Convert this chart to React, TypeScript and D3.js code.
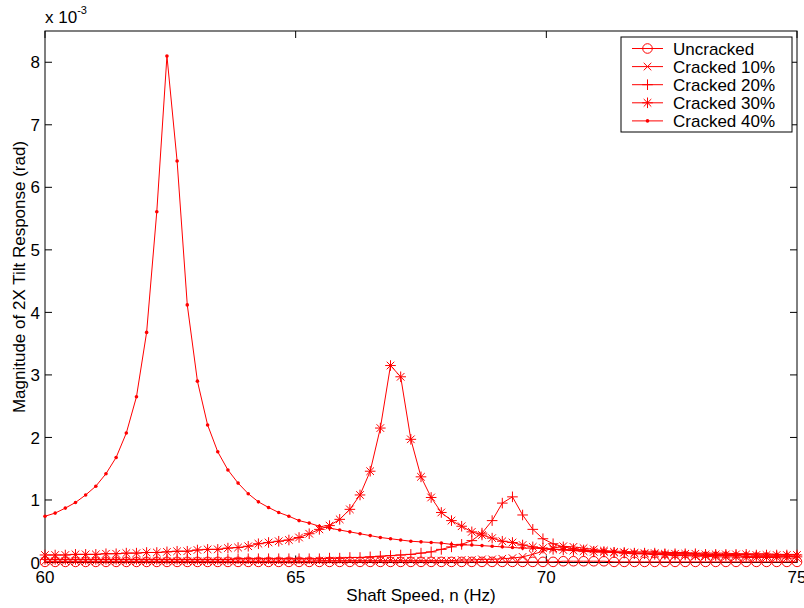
import React from "react";
import * as d3 from "d3";

// Shaft speed sweep: 75 evenly spaced samples from 60 Hz to 75 Hz
const SPEED_START = 60;
const SPEED_END = 75;
const SPEED_COUNT = 75;
const speeds: number[] = d3.range(SPEED_COUNT).map(
  (i) => SPEED_START + (i * (SPEED_END - SPEED_START)) / (SPEED_COUNT - 1)
);

// 2X tilt response magnitude, in units of 1e-3 rad
const uncracked: number[] = [
  0.01, 0.01, 0.01, 0.01, 0.01, 0.01, 0.01, 0.01, 0.01, 0.01,
  0.01, 0.01, 0.01, 0.01, 0.01, 0.01, 0.01, 0.01, 0.01, 0.01,
  0.01, 0.01, 0.01, 0.01, 0.01, 0.01, 0.01, 0.01, 0.01, 0.01,
  0.01, 0.01, 0.01, 0.01, 0.01, 0.01, 0.01, 0.01, 0.01, 0.01,
  0.01, 0.01, 0.01, 0.01, 0.01, 0.01, 0.01, 0.01, 0.01, 0.01,
  0.01, 0.02, 0.02, 0.02, 0.02, 0.02, 0.01, 0.01, 0.01, 0.01,
  0.01, 0.01, 0.01, 0.01, 0.01, 0.01, 0.01, 0.01, 0.01, 0.01,
  0.01, 0.01, 0.01, 0.01, 0.01,
];

const cracked10: number[] = [
  0.02, 0.02, 0.02, 0.02, 0.02, 0.02, 0.02, 0.02, 0.02, 0.02,
  0.02, 0.02, 0.02, 0.02, 0.02, 0.02, 0.02, 0.02, 0.02, 0.02,
  0.02, 0.02, 0.02, 0.02, 0.02, 0.02, 0.02, 0.03, 0.03, 0.03,
  0.03, 0.03, 0.03, 0.03, 0.03, 0.03, 0.03, 0.03, 0.03, 0.03,
  0.03, 0.04, 0.04, 0.05, 0.05, 0.06, 0.07, 0.09, 0.13, 0.18,
  0.23, 0.26, 0.25, 0.23, 0.21, 0.19, 0.17, 0.16, 0.15, 0.14,
  0.13, 0.12, 0.11, 0.11, 0.10, 0.10, 0.09, 0.09, 0.09, 0.08,
  0.08, 0.08, 0.08, 0.07, 0.07,
];

const cracked20: number[] = [
  0.05, 0.05, 0.05, 0.05, 0.05, 0.05, 0.05, 0.05, 0.05, 0.05,
  0.05, 0.05, 0.05, 0.05, 0.05, 0.05, 0.05, 0.05, 0.05, 0.06,
  0.06, 0.06, 0.06, 0.06, 0.06, 0.06, 0.06, 0.06, 0.07, 0.07,
  0.08, 0.08, 0.09, 0.10, 0.11, 0.12, 0.13, 0.15, 0.17, 0.21,
  0.25, 0.29, 0.35, 0.47, 0.67, 0.95, 1.05, 0.76, 0.53, 0.38,
  0.30, 0.25, 0.22, 0.20, 0.18, 0.17, 0.16, 0.15, 0.14, 0.14,
  0.13, 0.13, 0.12, 0.12, 0.12, 0.11, 0.11, 0.11, 0.11, 0.10,
  0.10, 0.10, 0.10, 0.10, 0.09,
];

const cracked30: number[] = [
  0.12, 0.12, 0.12, 0.13, 0.13, 0.13, 0.14, 0.14, 0.15, 0.15,
  0.16, 0.16, 0.17, 0.18, 0.18, 0.20, 0.21, 0.21, 0.23, 0.24,
  0.26, 0.30, 0.32, 0.34, 0.36, 0.40, 0.46, 0.53, 0.59, 0.69,
  0.85, 1.08, 1.46, 2.15, 3.15, 2.97, 1.97, 1.37, 1.04, 0.80,
  0.67, 0.58, 0.49, 0.44, 0.39, 0.34, 0.32, 0.28, 0.25, 0.23,
  0.21, 0.20, 0.19, 0.18, 0.17, 0.17, 0.16, 0.16, 0.15, 0.15,
  0.15, 0.14, 0.14, 0.14, 0.14, 0.13, 0.13, 0.13, 0.13, 0.13,
  0.12, 0.12, 0.12, 0.12, 0.12,
];

const cracked40: number[] = [
  0.74, 0.79, 0.87, 0.96, 1.08, 1.22, 1.42, 1.68, 2.07, 2.65,
  3.68, 5.61, 8.10, 6.42, 4.12, 2.90, 2.20, 1.77, 1.48, 1.27,
  1.10, 0.97, 0.88, 0.80, 0.74, 0.67, 0.63, 0.58, 0.55, 0.52,
  0.49, 0.46, 0.43, 0.40, 0.38, 0.36, 0.34, 0.33, 0.32, 0.31,
  0.29, 0.28, 0.28, 0.27, 0.26, 0.25, 0.24, 0.23, 0.23, 0.22,
  0.21, 0.21, 0.20, 0.20, 0.19, 0.19, 0.18, 0.18, 0.17, 0.17,
  0.17, 0.16, 0.16, 0.16, 0.15, 0.15, 0.15, 0.15, 0.14, 0.14,
  0.14, 0.14, 0.13, 0.13, 0.13,
];

const seriesNames: string[] = [
  "Uncracked",
  "Cracked 10%",
  "Cracked 20%",
  "Cracked 30%",
  "Cracked 40%",
];
const seriesValues: number[][] = [uncracked, cracked10, cracked20, cracked30, cracked40];
const markerKinds: string[] = ["circle", "x", "plus", "star", "dot"];

const xTicks: number[] = [60, 65, 70, 75];
const yTicks: number[] = [0, 1, 2, 3, 4, 5, 6, 7, 8];

const xLabel = "Shaft Speed, n (Hz)";
const yLabel = "Magnitude of 2X Tilt Response (rad)";

const W = 804;
const H = 608;
const LEFT = 45;
const RIGHT = 797;
const TOP = 31;
const BOTTOM = 562.5;
const RED = "#ff0000";
const FONT = "'Liberation Sans', Arial, Helvetica, sans-serif";
const FS = 17;

const x = d3.scaleLinear().domain([60, 75]).range([LEFT, RIGHT]);
const y = d3.scaleLinear().domain([0, 8.5]).range([BOTTOM, TOP]);

function Marker({ kind, cx, cy }: { kind: string; cx: number; cy: number }) {
  const t = `translate(${cx},${cy})`;
  if (kind === "circle")
    return <circle cx={cx} cy={cy} r={4.8} fill="none" stroke={RED} strokeWidth={1} />;
  if (kind === "dot") return <circle cx={cx} cy={cy} r={1.8} fill={RED} />;
  const p = 5.3;
  const q = 3.8;
  let d = "";
  if (kind === "plus") d = `M${-p},0H${p}M0,${-p}V${p}`;
  if (kind === "x") d = `M${-q},${-q}L${q},${q}M${-q},${q}L${q},${-q}`;
  if (kind === "star")
    d = `M${-p},0H${p}M0,${-p}V${p}M${-q},${-q}L${q},${q}M${-q},${q}L${q},${-q}`;
  return <path d={d} transform={t} fill="none" stroke={RED} strokeWidth={1} />;
}

export default function App() {
  const line = d3
    .line<number>()
    .x((_, i) => x(speeds[i]))
    .y((v) => y(v));

  const tickLen = 7;
  const legendX = 621;
  const legendY = 37;
  const legendW = 171;
  const legendH = 95;
  const rowH = 18.1;

  return (
    <svg
      width={W}
      height={H}
      style={{ position: "absolute", left: 0, top: 0, background: "#fff" }}
      fontFamily={FONT}
    >
      <rect x={0} y={0} width={W} height={H} fill="#fff" />

      {/* axes box */}
      <rect x={LEFT} y={TOP} width={RIGHT - LEFT} height={BOTTOM - TOP} fill="none" stroke="#000" strokeWidth={1} />

      {/* y ticks, both sides */}
      {yTicks.map((t) => (
        <g key={`y${t}`}>
          <line x1={LEFT} x2={LEFT + tickLen} y1={y(t)} y2={y(t)} stroke="#000" />
          <line x1={RIGHT} x2={RIGHT - tickLen} y1={y(t)} y2={y(t)} stroke="#000" />
          <text x={LEFT - 5} y={y(t)} dy="0.36em" textAnchor="end" fontSize={FS}>
            {t}
          </text>
        </g>
      ))}

      {/* x ticks, top and bottom */}
      {xTicks.map((t) => (
        <g key={`x${t}`}>
          <line x1={x(t)} x2={x(t)} y1={BOTTOM} y2={BOTTOM - tickLen} stroke="#000" />
          <line x1={x(t)} x2={x(t)} y1={TOP} y2={TOP + tickLen} stroke="#000" />
          <text x={x(t)} y={583} textAnchor="middle" fontSize={FS}>
            {t}
          </text>
        </g>
      ))}

      {/* exponent note */}
      <text x={45} y={23} fontSize={FS}>
        x 10
        <tspan dy={-9} fontSize={11}>-3</tspan>
      </text>

      <text x={(LEFT + RIGHT) / 2} y={601} textAnchor="middle" fontSize={FS}>
        {xLabel}
      </text>
      <text
        transform={`translate(25,277) rotate(-90)`}
        textAnchor="middle"
        fontSize={FS}
      >
        {yLabel}
      </text>

      {/* response curves */}
      {seriesValues.map((vals, s) => (
        <g key={seriesNames[s]}>
          <path d={line(vals) || ""} fill="none" stroke={RED} strokeWidth={1} />
          {vals.map((v, i) => (
            <Marker key={i} kind={markerKinds[s]} cx={x(speeds[i])} cy={y(v)} />
          ))}
        </g>
      ))}

      {/* legend */}
      <rect x={legendX} y={legendY} width={legendW} height={legendH} fill="#fff" stroke="#000" strokeWidth={1} />
      {seriesNames.map((name, s) => {
        const ry = legendY + 11.5 + s * rowH;
        return (
          <g key={`lg${s}`}>
            <line x1={632} x2={663} y1={ry} y2={ry} stroke={RED} strokeWidth={1} />
            <Marker kind={markerKinds[s]} cx={647.5} cy={ry} />
            <text x={673} y={ry} dy="0.36em" fontSize={FS}>
              {name}
            </text>
          </g>
        );
      })}
    </svg>
  );
}
